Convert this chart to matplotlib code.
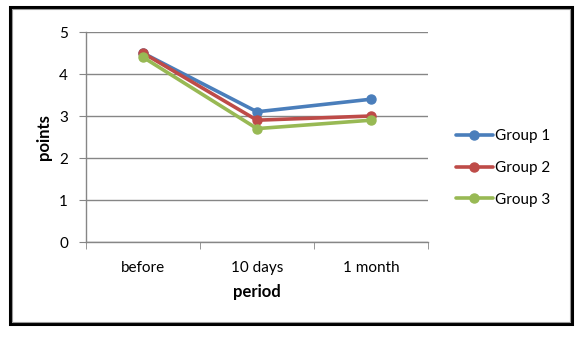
import matplotlib
matplotlib.use("Agg")
import matplotlib.pyplot as plt
from matplotlib.patches import Rectangle

categories = ["before", "10 days", "1 month"]
group1 = [4.5, 3.1, 3.4]
group2 = [4.5, 2.9, 3.0]
group3 = [4.4, 2.7, 2.9]
series_names = ["Group 1", "Group 2", "Group 3"]
colors = ["#4A7EBB", "#BE4B48", "#98B954"]
yticks = [0, 1, 2, 3, 4, 5]

plt.rcParams['font.family'] = ['Lato', 'DejaVu Sans']

W, H = 582, 337
fig = plt.figure(figsize=(W / 100, H / 100), dpi=100)
fig.patch.set_facecolor("white")

def fx(px):
    return px / W

def fy(py):
    return 1 - py / H

ax = fig.add_axes([fx(86), fy(242), fx(428) - fx(86), fy(32) - fy(242)])
x = list(range(len(categories)))
for vals, name, c in zip([group1, group2, group3], series_names, colors):
    ax.plot(x, vals, color=c, lw=2.6, marker="o", markersize=6.5, label=name,
            solid_capstyle="round")

ax.set_xlim(-0.5, len(categories) - 0.5)
ax.set_ylim(0, 5)
ax.set_yticks(yticks)
ax.set_yticklabels([str(t) for t in yticks], fontsize=11)
ax.set_xticks(x)
ax.set_xticklabels(categories, fontsize=11)
ax.set_xticks([i - 0.5 for i in range(len(categories) + 1)], minor=True)
ax.tick_params(axis="x", which="major", length=0, pad=14)
ax.tick_params(axis="x", which="minor", length=5, color="#868686", direction="out")
ax.tick_params(axis="y", length=5, color="#868686", pad=8)
ax.yaxis.grid(True, color="#868686", lw=1)
ax.set_axisbelow(True)
for s in ["top", "right"]:
    ax.spines[s].set_visible(False)
for s in ["left", "bottom"]:
    ax.spines[s].set_color("#868686")
    ax.spines[s].set_linewidth(1)

ax.set_ylabel("points", fontsize=12, fontweight="bold")
ax.yaxis.set_label_coords((52 - 86) / 342, 0.5)
ax.set_xlabel("period", fontsize=12, fontweight="bold")
ax.xaxis.set_label_coords(0.5, (242 - 284) / 210)

fig.legend(loc="center left", bbox_to_anchor=(fx(456), fy(168)), frameon=False,
           fontsize=11, handlelength=2.4, handletextpad=0.15, labelspacing=1.15,
           borderpad=0, borderaxespad=0)

fig.patches.append(Rectangle((fx(10), fy(324)), fx(572) - fx(10), fy(7) - fy(324),
                             transform=fig.transFigure, fill=False, edgecolor="black", lw=2.2))
fig.patches.append(Rectangle((fx(12), fy(322)), fx(570) - fx(12), fy(9) - fy(322),
                             transform=fig.transFigure, fill=False, edgecolor="#9a9a9a", lw=0.8))

fig.savefig("out.png", dpi=100, facecolor="white")
